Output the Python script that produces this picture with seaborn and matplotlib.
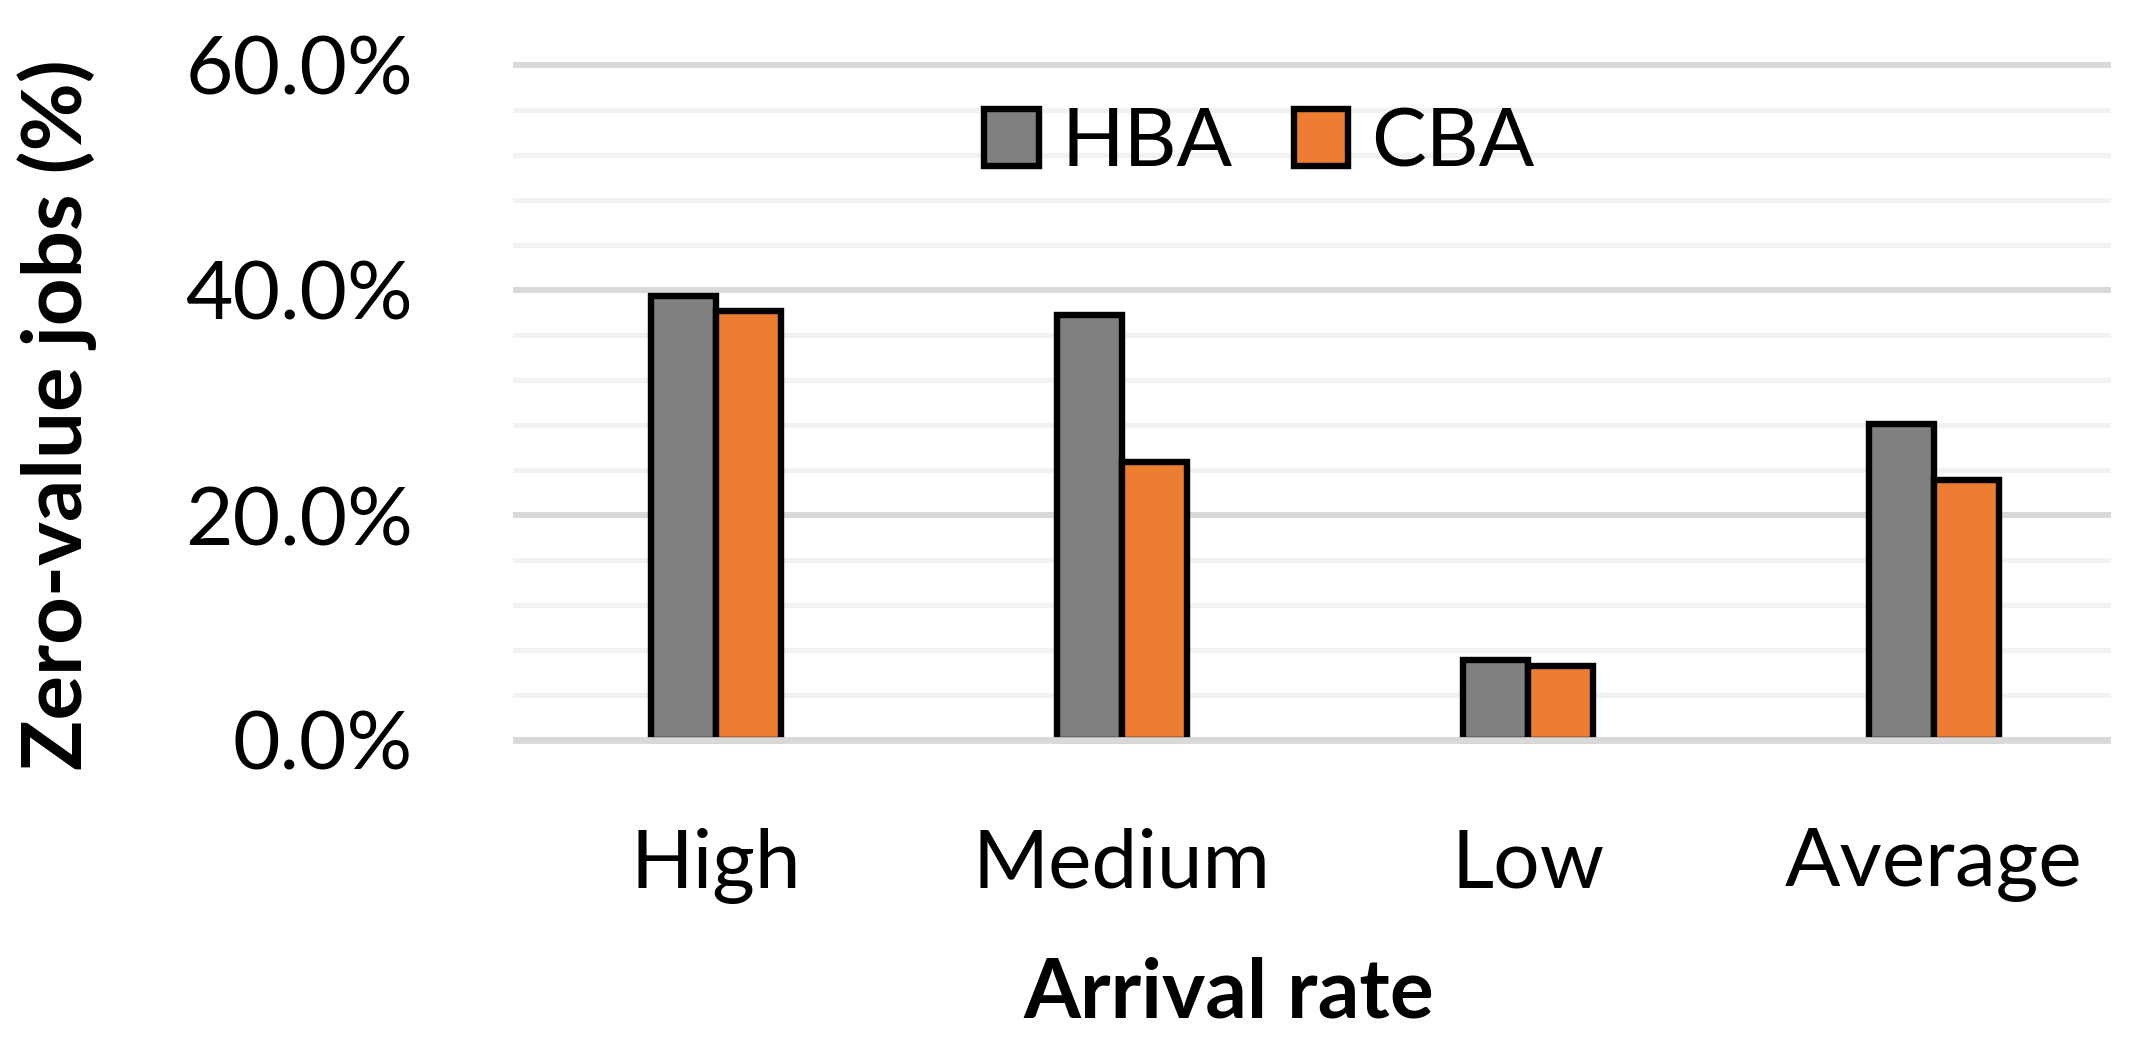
import numpy as np
import pandas as pd
import matplotlib
matplotlib.use("Agg")
import matplotlib.pyplot as plt
import matplotlib.patches as mpatches
from matplotlib.ticker import MultipleLocator, PercentFormatter
import seaborn as sns

# values (fraction of jobs)
categories = ["High", "Medium", "Low", "Average"]
series = ["HBA", "CBA"]
hba_values = [0.395, 0.378, 0.071, 0.281]
cba_values = [0.381, 0.247, 0.066, 0.231]
colors = {"HBA": "#808080", "CBA": "#ED7D31"}

df = pd.DataFrame({
    "rate": categories * 2,
    "algo": ["HBA"] * 4 + ["CBA"] * 4,
    "value": hba_values + cba_values,
})

sns.set_theme(style="white")
plt.rcParams["font.family"] = ["Lato", "DejaVu Sans"]
plt.rcParams["text.color"] = "black"
plt.rcParams["xtick.color"] = "black"
plt.rcParams["ytick.color"] = "black"

W, H = 2139, 1043
fig = plt.figure(figsize=(W / 100, H / 100), dpi=100)

# plot area in pixels: x 513..2111, y(0%)=740, y(60%)=65
px_per_unit = 675 / 0.6
pad = 0.004
left, right = 513, 2111
top_px = 65 - pad * px_per_unit
bot_px = 740 + pad * px_per_unit
ax = fig.add_axes([left / W, (H - bot_px) / H, (right - left) / W, (bot_px - top_px) / H])

edge_lw = 4.6
sns.barplot(
    data=df, x="rate", y="value", hue="algo",
    order=categories, hue_order=series, palette=colors, saturation=1,
    width=0.32, edgecolor="black", linewidth=edge_lw,
    ax=ax, legend=False, zorder=2,
)

ax.set_ylim(-pad, 0.6 + pad)
ax.set_xlim(-0.5, 3.436)
ax.yaxis.set_major_locator(MultipleLocator(0.2))
ax.yaxis.set_minor_locator(MultipleLocator(0.04))
ax.yaxis.set_major_formatter(PercentFormatter(1.0, decimals=1))
ax.set_axisbelow(True)
ax.grid(True, axis="y", which="major", color="#D9D9D9", linewidth=4.3)
ax.grid(True, axis="y", which="minor", color="#F2F2F2", linewidth=3.8)
ax.axhline(0, color="#D9D9D9", linewidth=4.8, zorder=3)
ax.grid(False, axis="x")
for s in ax.spines.values():
    s.set_visible(False)

ax.tick_params(axis="both", which="both", length=0)
ax.tick_params(axis="y", labelsize=59, pad=72)
ax.tick_params(axis="x", labelsize=59, pad=60)
ax.set_xlabel("")
ax.set_ylabel("")

fig.text(1229 / W, 26 / H, "Arrival rate", fontsize=59, fontweight="bold",
         ha="center", va="baseline")
fig.text(57 / W, 1 - 415 / H, "Zero-value jobs (%)", fontsize=60, fontweight="bold",
         rotation=90, ha="center", va="center")

handles = [mpatches.Patch(facecolor=colors[s], edgecolor="black", linewidth=edge_lw, label=s)
           for s in series]
ax.legend(handles=handles, ncol=2, frameon=False, fontsize=59,
          loc="center", bbox_to_anchor=(0.467, 0.879),
          handlelength=0.67, handleheight=0.68, handletextpad=0.28,
          columnspacing=0.74, borderpad=0)

fig.savefig("out.png", dpi=100)
